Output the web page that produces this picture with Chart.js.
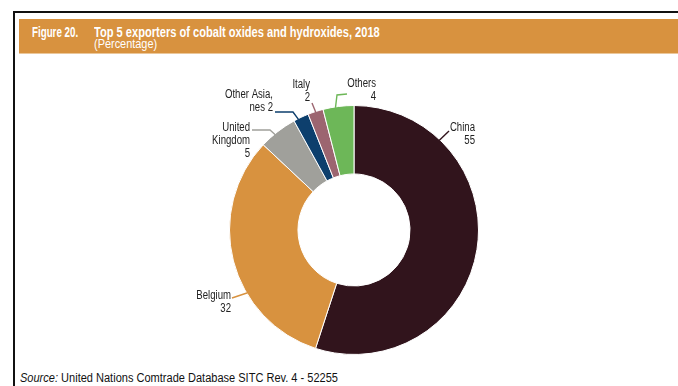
<!DOCTYPE html>
<html>
<head>
<meta charset="utf-8">
<script src="https://cdn.jsdelivr.net/npm/chart.js@4.4.1/dist/chart.umd.min.js"></script>
<style>
  html,body{margin:0;padding:0;background:#fff;}
  body{width:678px;height:386px;position:relative;overflow:hidden;
       font-family:"Liberation Sans",Arial,sans-serif;}
  #frame{position:absolute;left:13px;top:11px;width:700px;height:400px;
         border-left:2px solid #111;border-top:2px solid #111;}
  #header{position:absolute;left:19px;top:19px;width:680px;height:34px;background:#D8923F;color:#fff;
          border-bottom:1px solid #EBC79A;}
  .fit{position:absolute;white-space:nowrap;transform-origin:0 50%;line-height:1;}
  #fig{left:13px;top:6px;font-size:14px;font-weight:bold;}
  #title{left:75px;top:6px;font-size:14px;font-weight:bold;}
  #sub{left:75px;top:18px;font-size:13px;}
  #chartBox{position:absolute;left:150px;top:60px;width:410px;height:310px;}
  #source{left:20px;top:372px;font-size:12px;color:#111;}
</style>
</head>
<body>
<div id="frame"></div>
<div id="header">
  <div id="fig" class="fit" data-w="46">Figure 20.</div>
  <div id="title" class="fit" data-w="286">Top 5 exporters of cobalt oxides and hydroxides, 2018</div>
  <div id="sub" class="fit" data-w="63">(Percentage)</div>
</div>
<div id="chartBox"><canvas id="chart" width="410" height="310"></canvas></div>
<div id="source" class="fit" data-w="318"><i>Source:</i> United Nations Comtrade Database SITC Rev. 4 - 52255</div>

<script>
// ---------------- DATA ----------------
const countries = ["China","Belgium","United Kingdom","Other Asia, nes","Italy","Others"];
const shares    = [55, 32, 5, 2, 2, 4];
const colors    = ["#31141C","#D8923F","#A0A09B","#0D3F6D","#9C6570","#6DB758"];

// label lines (text) for each slice
const labelText = [
  ["China","55"],
  ["Belgium","32"],
  ["United","Kingdom","5"],
  ["Other Asia,","nes 2"],
  ["Italy","2"],
  ["Others","4"]
];

// callout layout: t = where on the slice the leader starts,
// path = leader points relative to centre, tx/ty = text anchor (right aligned)
const callouts = [
  {t:0.22, path:[[95,-99]],               tx:121, ty:-102},
  {t:0.36, path:[[-122,68]],              tx:-123, ty:66},
  {t:0.40, path:[[-84,-100],[-102,-100]], tx:-104, ty:-102},
  {t:0.30, path:[[-61,-118],[-79,-118]],  tx:-81, ty:-135},
  {t:0.50, path:[[-42,-127]],             tx:-44, ty:-145},
  {t:0.40, path:[[-17,-135],[-7,-136]],   tx:22, ty:-146}
];

// squeeze html text to its box width
document.querySelectorAll(".fit").forEach(el=>{
  const w = +el.dataset.w;
  el.style.transform = "scaleX(" + (w / el.offsetWidth) + ")";
});

// ---------------- CALLOUT PLUGIN ----------------
const calloutPlugin = {
  id:"callouts",
  afterDraw(chart){
    const ctx = chart.ctx;
    const arcs = chart.getDatasetMeta(0).data;
    ctx.save();
    arcs.forEach((arc,i)=>{
      const c = callouts[i];
      const p = arc.getProps(["x","y","startAngle","endAngle","outerRadius"],true);
      const a = p.startAngle + (p.endAngle - p.startAngle)*c.t;
      const sx = p.x + Math.cos(a)*(p.outerRadius-1);
      const sy = p.y + Math.sin(a)*(p.outerRadius-1);

      ctx.strokeStyle = colors[i];
      ctx.lineWidth = 1.4;
      ctx.beginPath();
      ctx.moveTo(sx,sy);
      c.path.forEach(pt => ctx.lineTo(p.x+pt[0], p.y+pt[1]));
      ctx.stroke();

      ctx.fillStyle = "#222";
      ctx.font = '12px "Liberation Sans",Arial,sans-serif';
      ctx.textAlign = "right";
      ctx.textBaseline = "middle";
      labelText[i].forEach((line,k)=>{
        ctx.save();
        ctx.translate(p.x+c.tx, p.y+c.ty+k*13);
        ctx.scale(0.8,1);   // condensed
        ctx.fillText(line,0,0);
        ctx.restore();
      });
    });
    ctx.restore();
  }
};

// ---------------- CHART ----------------
new Chart(document.getElementById("chart"),{
  type:"doughnut",
  data:{
    labels:countries,
    datasets:[{
      data:shares,
      backgroundColor:colors,
      borderColor:"#fff",
      borderWidth:1
    }]
  },
  options:{
    responsive:false,
    animation:false,
    cutout:"45%",
    layout:{padding:{left:79,right:81,top:45,bottom:15}},
    plugins:{legend:{display:false},tooltip:{enabled:false}}
  },
  plugins:[calloutPlugin]
});
</script>
</body>
</html>
